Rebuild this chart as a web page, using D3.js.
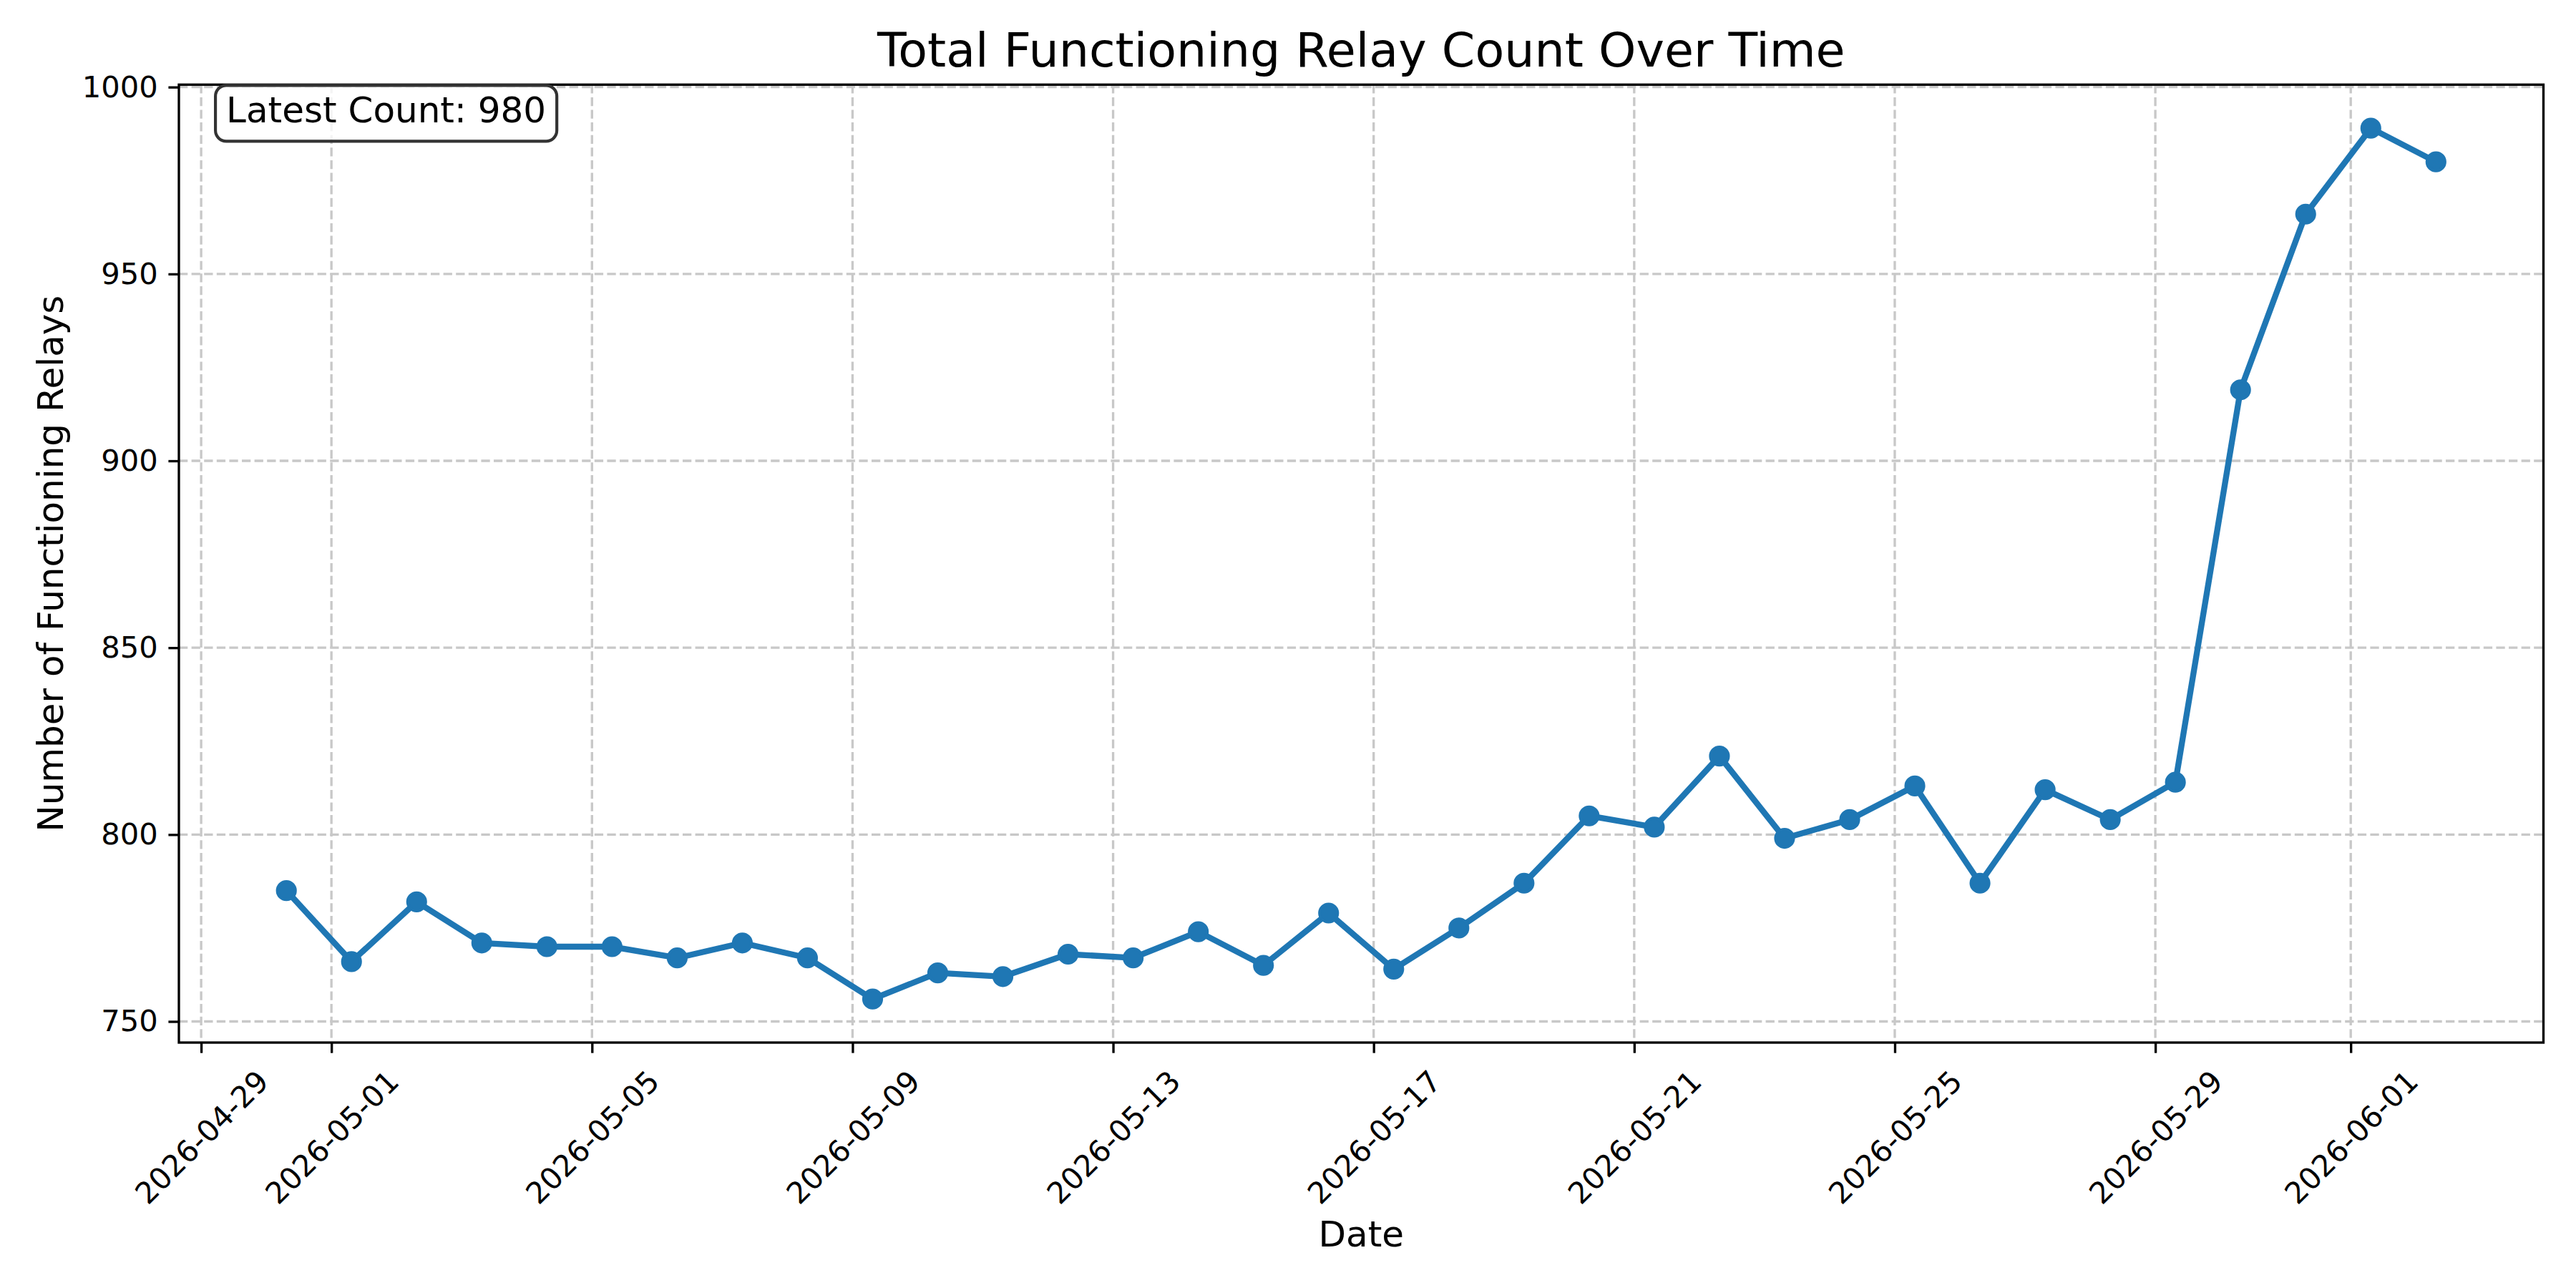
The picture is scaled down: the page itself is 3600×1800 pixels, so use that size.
<!DOCTYPE html>
<html>
<head>
<meta charset="utf-8">
<script src="https://cdn.jsdelivr.net/npm/d3@7"></script>
<style>
  body { margin: 0; background: white; }
  text { font-family: "DejaVu Sans", sans-serif; }
</style>
</head>
<body>
<div id="wykres"></div>
<script>
// daily readings
var dates = [
  "2026-04-30 07:24", "2026-05-01 07:24", "2026-05-02 07:24", "2026-05-03 07:24",
  "2026-05-04 07:24", "2026-05-05 07:24", "2026-05-06 07:24", "2026-05-07 07:24",
  "2026-05-08 07:24", "2026-05-09 07:24", "2026-05-10 07:24", "2026-05-11 07:24",
  "2026-05-12 07:24", "2026-05-13 07:24", "2026-05-14 07:24", "2026-05-15 07:24",
  "2026-05-16 07:24", "2026-05-17 07:24", "2026-05-18 07:24", "2026-05-19 07:24",
  "2026-05-20 07:24", "2026-05-21 07:24", "2026-05-22 07:24", "2026-05-23 07:24",
  "2026-05-24 07:24", "2026-05-25 07:24", "2026-05-26 07:24", "2026-05-27 07:24",
  "2026-05-28 07:24", "2026-05-29 07:24", "2026-05-30 07:24", "2026-05-31 07:24",
  "2026-06-01 07:24", "2026-06-02 07:24"
];
var counts = [
  785, 766, 782, 771, 770, 770, 767, 771, 767, 756, 763, 762,
  768, 767, 774, 765, 779, 764, 775, 787, 805, 802, 821, 799,
  804, 813, 787, 812, 804, 814, 919, 966, 989, 980
];
var tickLabels = [
  "2026-04-29", "2026-05-01", "2026-05-05", "2026-05-09", "2026-05-13",
  "2026-05-17", "2026-05-21", "2026-05-25", "2026-05-29", "2026-06-01"
];
var yTicks = [750, 800, 850, 900, 950, 1000];

var margin = {left: 250, right: 45.5, top: 118.3, bottom: 343};
var width = 3600 - margin.left - margin.right;
var height = 1800 - margin.top - margin.bottom;

var parseDate = d3.timeParse("%Y-%m-%d %H:%M");
var parseDay = d3.timeParse("%Y-%m-%d");

var values = dates.map(function (d, i) { return {date: parseDate(d), count: counts[i]}; });
var tickDates = tickLabels.map(parseDay);

var root = d3.select("#wykres")
  .append("svg")
  .attr("width", 3600)
  .attr("height", 1800)
  .style("background", "white");

root.append("rect").attr("width", 3600).attr("height", 1800).attr("fill", "white");

var svg = root.append("g")
  .attr("transform", "translate(" + margin.left + "," + margin.top + ")");

// 5% padding like matplotlib
var xExt = d3.extent(values, d => d.date);
var xPad = (xExt[1] - xExt[0]) * 0.05;
var xscale = d3.scaleTime()
  .domain([new Date(+xExt[0] - xPad), new Date(+xExt[1] + xPad)])
  .range([0, width]);

var yExt = d3.extent(counts);
var yPad = (yExt[1] - yExt[0]) * 0.05;
var yscale = d3.scaleLinear()
  .domain([yExt[0] - yPad, yExt[1] + yPad])
  .range([height, 0]);

// grid
var grid = svg.append("g").attr("class", "grid");
grid.selectAll("line.vx")
  .data(tickDates)
  .enter().append("line")
  .attr("x1", d => xscale(d))
  .attr("x2", d => xscale(d))
  .attr("y1", 0)
  .attr("y2", height)
  .attr("stroke", "#c8c8c8")
  .attr("stroke-width", 3.33)
  .attr("stroke-dasharray", "12.3,5.3");
grid.selectAll("line.hy")
  .data(yTicks)
  .enter().append("line")
  .attr("x1", 0)
  .attr("x2", width)
  .attr("y1", d => yscale(d))
  .attr("y2", d => yscale(d))
  .attr("stroke", "#c8c8c8")
  .attr("stroke-width", 3.33)
  .attr("stroke-dasharray", "12.3,5.3");

// line + markers
svg.append("path")
  .datum(values)
  .attr("fill", "none")
  .attr("stroke", "#1f77b4")
  .attr("stroke-width", 8.33)
  .attr("stroke-linejoin", "round")
  .attr("d", d3.line()
    .x(function (d) { return xscale(d.date) })
    .y(function (d) { return yscale(d.count) })
  );

svg.selectAll("circle")
  .data(values)
  .enter()
  .append("circle")
  .attr("cx", d => xscale(d.date))
  .attr("cy", d => yscale(d.count))
  .attr("r", 12.5)
  .attr("fill", "#1f77b4")
  .attr("stroke", "#1f77b4")
  .attr("stroke-width", 4.17);

// frame
svg.append("rect")
  .attr("width", width)
  .attr("height", height)
  .attr("fill", "none")
  .attr("stroke", "black")
  .attr("stroke-width", 3.33);

// x axis
var xAxis = svg.append("g")
  .attr("transform", "translate(0," + height + ")")
  .call(d3.axisBottom(xscale)
    .tickValues(tickDates)
    .tickFormat(d3.timeFormat("%Y-%m-%d"))
    .tickSizeInner(14.6)
    .tickSizeOuter(0));
xAxis.attr("font-family", "DejaVu Sans").attr("font-size", 41.67);
xAxis.select(".domain").remove();
xAxis.selectAll(".tick line").attr("stroke", "black").attr("stroke-width", 3.33);
xAxis.selectAll(".tick text")
  .attr("fill", "black")
  .attr("y", 0)
  .attr("dy", "0.36em")
  .style("text-anchor", "middle")
  .attr("transform", function () {
    var w = this.getComputedTextLength();
    var H = 0.7071 * (w + 41.67 * 1.17);
    return "translate(0," + (29.2 + H / 2) + ")rotate(-45)";
  });

// y axis
var yAxis = svg.append("g")
  .call(d3.axisLeft(yscale)
    .tickValues(yTicks)
    .tickFormat(d3.format("d"))
    .tickSizeInner(14.6)
    .tickSizeOuter(0)
    .tickPadding(14.6));
yAxis.attr("font-family", "DejaVu Sans").attr("font-size", 41.67);
yAxis.select(".domain").remove();
yAxis.selectAll(".tick line").attr("stroke", "black").attr("stroke-width", 3.33);
yAxis.selectAll(".tick text").attr("fill", "black");

// title and labels
root.append("text")
  .attr("x", margin.left + width / 2)
  .attr("y", 93.3)
  .attr("text-anchor", "middle")
  .attr("font-size", 66.67)
  .attr("fill", "black")
  .text("Total Functioning Relay Count Over Time");

root.append("text")
  .attr("x", margin.left + width / 2)
  .attr("y", 1742)
  .attr("text-anchor", "middle")
  .attr("font-size", 50)
  .attr("fill", "black")
  .text("Date");

root.append("text")
  .attr("transform", "translate(87.8," + (margin.top + height / 2) + ")rotate(-90)")
  .attr("text-anchor", "middle")
  .attr("font-size", 50)
  .attr("fill", "black")
  .text("Number of Functioning Relays");

// latest count box
var note = root.append("g");
var box = note.append("rect");
var noteX = margin.left + width * 0.02;
var noteText = note.append("text")
  .attr("x", noteX)
  .attr("y", 170.7)
  .attr("font-size", 50)
  .attr("fill", "black")
  .text("Latest Count: " + counts[counts.length - 1]);
var tw = noteText.node().getComputedTextLength();
box.attr("x", noteX - 15)
  .attr("y", 119.3)
  .attr("width", tw + 30)
  .attr("height", 78)
  .attr("rx", 15)
  .attr("ry", 15)
  .attr("fill", "white")
  .attr("fill-opacity", 0.8)
  .attr("stroke", "#333")
  .attr("stroke-width", 4.17);
</script>
</body>
</html>
